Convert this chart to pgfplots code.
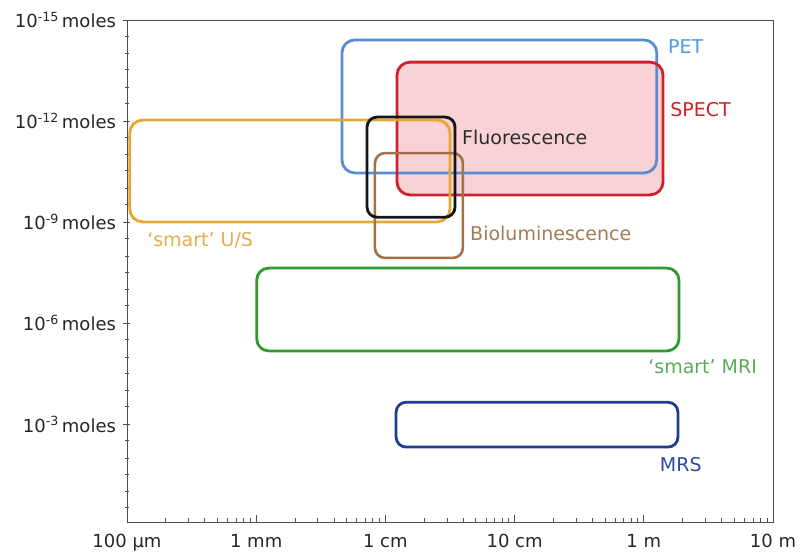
\documentclass[border=0pt]{standalone}
\usepackage{fontspec}
\setmainfont{DejaVu Sans}
\usepackage{pgfplots}
\pgfplotsset{compat=1.18}
\definecolor{petc}{HTML}{5A8CD6}
\definecolor{petl}{HTML}{4A9BE0}
\definecolor{spectc}{HTML}{D0202A}
\definecolor{spectf}{HTML}{F9D2D5}
\definecolor{fluc}{HTML}{151515}
\definecolor{usc}{HTML}{E6A735}
\definecolor{usl}{HTML}{E0AE50}
\definecolor{bioc}{HTML}{A0714A}
\definecolor{biol}{HTML}{A27A55}
\definecolor{mric}{HTML}{2F9A2F}
\definecolor{mril}{HTML}{5DAA5D}
\definecolor{mrsc}{HTML}{1F3E8F}
\definecolor{mrsl}{HTML}{2C4C9C}
\begin{document}
\begin{tikzpicture}
\begin{axis}[
  scale only axis, width=646pt, height=502pt,
  xmode=log, ymode=log, y dir=reverse,
  xmin=1e-4, xmax=10, ymin=1e-15, ymax=0.787,
  xtick={1e-4,1e-3,1e-2,1e-1,1,10},
  xticklabels={100 µm,1 mm,1 cm,10 cm,1 m,10 m},
  minor xtick={2e-4,3e-4,4e-4,5e-4,6e-4,7e-4,8e-4,9e-4,
               2e-3,3e-3,4e-3,5e-3,6e-3,7e-3,8e-3,9e-3,
               2e-2,3e-2,4e-2,5e-2,6e-2,7e-2,8e-2,9e-2,
               2e-1,3e-1,4e-1,5e-1,6e-1,7e-1,8e-1,9e-1,
               2,3,4,5,6,7,8,9},
  ytick={1e-15,1e-12,1e-9,1e-6,1e-3},
  yticklabels={10\textsuperscript{-15}\,moles,10\textsuperscript{-12}\,moles,10\textsuperscript{-9}\,moles,10\textsuperscript{-6}\,moles,10\textsuperscript{-3}\,moles},
  minor ytick={1e-14,1e-13,1e-11,1e-10,1e-8,1e-7,1e-5,1e-4,1e-2,1e-1,
               3e-15,3e-14,3e-13,3e-12,3e-11,3e-10,3e-9,3e-8,3e-7,3e-6,3e-5,3e-4,3e-3,3e-2,3e-1},
  tick pos=left,
  xtick align=inside,
  ytick align=center,
  major tick length=7pt, minor tick length=4pt,
  axis line style={black!70, line width=0.8pt},
  tick style={black!70, line width=0.8pt},
  ticklabel style={font=\fontsize{18}{21}\selectfont, text=black!85},
  xticklabel style={yshift=-9pt},
  yticklabel style={xshift=-4pt},
  clip=false,
]
% SPECT fill
\addplot[fill=spectf, draw=none, rounded corners=12pt] coordinates {(0.0123,1.55e-10) (1.41,1.55e-10) (1.41,1.78e-14) (0.0123,1.78e-14)} -- cycle;
% PET
\addplot[draw=petc, line width=2.8pt, rounded corners=13pt] coordinates {(0.1,3.47e-11) (1.26,3.47e-11) (1.26,3.9e-15) (4.61e-3,3.9e-15) (4.61e-3,3.47e-11) (0.1,3.47e-11)};
% SPECT border
\addplot[draw=spectc, line width=2.8pt, rounded corners=13pt] coordinates {(0.1,1.55e-10) (1.41,1.55e-10) (1.41,1.78e-14) (0.0123,1.78e-14) (0.0123,1.55e-10) (0.1,1.55e-10)};
% smart U/S
\addplot[draw=usc, line width=2.8pt, rounded corners=13pt] coordinates {(1e-3,9.8e-10) (0.0316,9.8e-10) (0.0316,9.3e-13) (1.05e-4,9.3e-13) (1.05e-4,9.8e-10) (1e-3,9.8e-10)};
% Bioluminescence
\addplot[draw=bioc, line width=2.6pt, rounded corners=10pt] coordinates {(0.02,1.15e-8) (0.0398,1.15e-8) (0.0398,8.9e-12) (8.3e-3,8.9e-12) (8.3e-3,1.15e-8) (0.02,1.15e-8)};
% Fluorescence
\addplot[draw=fluc, line width=2.8pt, rounded corners=10pt] coordinates {(0.015,7.1e-10) (0.0346,7.1e-10) (0.0346,7.6e-13) (7.21e-3,7.6e-13) (7.21e-3,7.1e-10) (0.015,7.1e-10)};
% smart MRI
\addplot[draw=mric, line width=2.8pt, rounded corners=12pt] coordinates {(0.05,6.6e-6) (1.87,6.6e-6) (1.87,2.3e-8) (1.01e-3,2.3e-8) (1.01e-3,6.6e-6) (0.05,6.6e-6)};
% MRS
\addplot[draw=mrsc, line width=2.8pt, rounded corners=10pt] coordinates {(0.1,4.7e-3) (1.84,4.7e-3) (1.84,2.2e-4) (0.0121,2.2e-4) (0.0121,4.7e-3) (0.1,4.7e-3)};
% labels
\begin{scope}[every node/.style={anchor=west, inner sep=0pt, font=\fontsize{19}{22}\selectfont}]
\node[text=petl] at (axis cs:1.54,6.3e-15) {PET};
\node[text=spectc] at (axis cs:1.6,4.7e-13) {SPECT};
\node[text=fluc!90] at (axis cs:0.0392,2.95e-12) {Fluorescence};
\node[text=usl] at (axis cs:1.43e-4,3.4e-9) {‘smart’ U/S};
\node[text=biol] at (axis cs:0.0452,2.1e-9) {Bioluminescence};
\node[text=mril] at (axis cs:1.08,2.0e-5) {‘smart’ MRI};
\node[text=mrsl] at (axis cs:1.33,1.58e-2) {MRS};
\end{scope}
\end{axis}
\pgfresetboundingbox
\path[use as bounding box] ([xshift=-127pt,yshift=-36pt]current axis.south west) rectangle ([xshift=36pt,yshift=20pt]current axis.north east);
\end{tikzpicture}
\end{document}
